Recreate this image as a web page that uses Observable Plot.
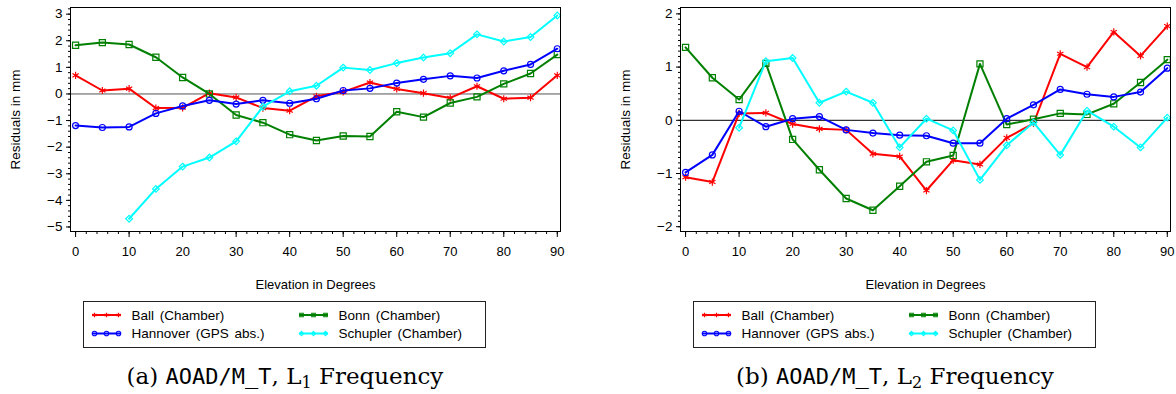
<!DOCTYPE html>
<html>
<head>
<meta charset="utf-8">
<script src="https://cdn.jsdelivr.net/npm/d3@7"></script>
<script src="https://cdn.jsdelivr.net/npm/@observablehq/plot@0.6"></script>
<style>
  html, body { margin: 0; padding: 0; background: #fff; }
  #root { position: relative; width: 1176px; height: 394px; overflow: hidden; }
  .panel { position: absolute; top: 0; width: 566px; height: 394px; }
  .panel > svg { position: absolute; left: 0; top: 0; }
</style>
</head>
<body>
<div id="root">
  <div class="panel" id="pa" style="left:0px"></div>
  <div class="panel" id="pb" style="left:610px"></div>
</div>
<script>
// ---------- data ----------
const elevations = [0, 5, 10, 15, 20, 25, 30, 35, 40, 45, 50, 55, 60, 65, 70, 75, 80, 85, 90];
const seriesNames = ["Ball (Chamber)", "Bonn (Chamber)", "Hannover (GPS abs.)", "Schupler (Chamber)"];

// L1 frequency residuals (mm)
const ballL1     = [0.70, 0.13, 0.20, -0.53, -0.52, 0.03, -0.13, -0.53, -0.63, -0.09, 0.08, 0.43, 0.19, 0.03, -0.15, 0.29, -0.18, -0.14, 0.70];
const bonnL1     = [1.83, 1.93, 1.86, 1.38, 0.62, 0.00, -0.79, -1.08, -1.53, -1.75, -1.58, -1.60, -0.67, -0.87, -0.34, -0.11, 0.38, 0.77, 1.48];
const hannoverL1 = [-1.19, -1.26, -1.24, -0.73, -0.45, -0.24, -0.38, -0.24, -0.35, -0.18, 0.13, 0.21, 0.41, 0.55, 0.68, 0.60, 0.87, 1.11, 1.70];
const schuplerL1 = [null, null, -4.69, -3.57, -2.73, -2.39, -1.78, -0.48, 0.10, 0.31, 0.99, 0.90, 1.16, 1.37, 1.53, 2.24, 1.97, 2.14, 2.95];

// L2 frequency residuals (mm)
const ballL2     = [-1.07, -1.16, 0.13, 0.14, -0.07, -0.16, -0.18, -0.63, -0.68, -1.32, -0.75, -0.83, -0.33, -0.06, 1.25, 1.00, 1.66, 1.21, 1.77];
const bonnL2     = [1.37, 0.80, 0.39, 1.07, -0.36, -0.93, -1.47, -1.69, -1.24, -0.78, -0.66, 1.06, -0.08, 0.02, 0.13, 0.11, 0.31, 0.71, 1.14];
const hannoverL2 = [-0.98, -0.65, 0.17, -0.12, 0.03, 0.07, -0.18, -0.24, -0.28, -0.29, -0.43, -0.43, 0.03, 0.29, 0.58, 0.49, 0.44, 0.53, 0.98];
const schuplerL2 = [null, null, -0.14, 1.11, 1.17, 0.33, 0.54, 0.33, -0.51, 0.03, -0.19, -1.12, -0.47, -0.04, -0.65, 0.18, -0.12, -0.51, 0.05];

// ticks
const xMajorTicks = [0, 10, 20, 30, 40, 50, 60, 70, 80, 90];
const yMajorTicksL1 = [-5, -4, -3, -2, -1, 0, 1, 2, 3];
const yMajorTicksL2 = [-2, -1, 0, 1, 2];

// ---------- styles ----------
const colors = ["#ff0000", "#008000", "#0000ff", "#00ffff"];
const symbols = ["asterisk", "square2", "circle", "diamond2"];
const radii = [3.4, 3.9, 3.0, 3.0];
const legendSymbols = [d3.symbolAsterisk, d3.symbolSquare2, d3.symbolCircle, d3.symbolDiamond2];
const legendSizes = [14, 16, 16, 12];

const FONT = "'Liberation Sans', Arial, sans-serif";
const fmtTick = d => (d < 0 ? "\u2212" + Math.abs(d) : String(d));

function makeChart(values, yDomain, yMajor, yMinorStep, zeroColor) {
  const marks = [];
  marks.push(Plot.ruleY([0], {stroke: zeroColor, strokeWidth: 1}));
  values.forEach((vals, i) => {
    const rows = elevations.map((e, j) => ({x: e, y: vals[j]})).filter(d => d.y != null);
    marks.push(Plot.line(rows, {x: "x", y: "y", stroke: colors[i], strokeWidth: 2}));
    marks.push(Plot.dot(rows, {x: "x", y: "y", stroke: colors[i], symbol: symbols[i], r: radii[i], strokeWidth: 1.2, fill: "none"}));
  });
  const n = Math.round(1 / yMinorStep);
  const yMinor = d3.range(Math.ceil(yDomain[0] * n), Math.floor(yDomain[1] * n) + 1).map(k => k / n);
  const xMinor = d3.range(0, 91, 2);
  marks.push(Plot.axisY(yMinor, {tickSize: 2, tickFormat: () => "", label: null}));
  marks.push(Plot.axisY(yMajor, {tickSize: 4, tickPadding: 4, tickFormat: fmtTick, fontSize: 13.5, label: "Residuals in mm", labelAnchor: "center", labelOffset: 60, labelArrow: "none"}));
  marks.push(Plot.axisX(xMinor, {tickSize: 3, tickFormat: () => "", label: null}));
  marks.push(Plot.axisX(xMajorTicks, {tickSize: 6, tickPadding: 9, tickFormat: fmtTick, label: "Elevation in Degrees", labelAnchor: "center", labelOffset: 57, labelArrow: "none"}));
  marks.push(Plot.frame({stroke: "#000", strokeWidth: 1}));
  return Plot.plot({
    width: 566, height: 295,
    marginLeft: 70, marginRight: 6, marginTop: 7, marginBottom: 64,
    x: {domain: [-0.95, 90.6], label: null},
    y: {domain: yDomain, label: null},
    style: {fontFamily: FONT, fontSize: "13px", color: "#000", background: "#fff"},
    marks
  });
}

function addOverlay(panel, tag, sub) {
  const svg = d3.select(panel).append("svg").attr("width", 566).attr("height", 394)
    .style("pointer-events", "none");
  // legend box
  svg.append("rect").attr("x", 83.5).attr("y", 301.5).attr("width", 402).attr("height", 46)
    .attr("fill", "#fff").attr("stroke", "#222").attr("stroke-width", 1);
  const pos = [[92, 315], [299, 315], [92, 333.5], [299, 333.5]];
  seriesNames.forEach((name, i) => {
    const [sx, sy] = pos[i];
    const g = svg.append("g");
    g.append("line").attr("x1", sx).attr("x2", sx + 29).attr("y1", sy).attr("y2", sy)
      .attr("stroke", colors[i]).attr("stroke-width", 2);
    [2.5, 14.5, 26.5].forEach(dx => {
      g.append("path").attr("d", d3.symbol(legendSymbols[i], legendSizes[i])())
        .attr("transform", `translate(${sx + dx},${sy})`)
        .attr("fill", "none").attr("stroke", colors[i]).attr("stroke-width", 1.1);
    });
    g.append("text").attr("x", sx + 39.5).attr("y", sy).attr("dy", "0.36em")
      .attr("font-family", FONT).attr("font-size", 13.5).attr("word-spacing", "2px")
      .attr("fill", "#000").text(name);
  });
  // caption
  const t = svg.append("text").attr("x", 285).attr("y", 384).attr("text-anchor", "middle")
    .attr("font-family", "'DejaVu Serif', 'Liberation Serif', serif").attr("font-size", 23).attr("fill", "#000");
  t.append("tspan").text(`(${tag}) `);
  t.append("tspan").attr("font-family", "'DejaVu Sans Mono', 'Liberation Mono', monospace").attr("font-size", 22).text("AOAD/M_T");
  t.append("tspan").text(", L");
  t.append("tspan").attr("font-size", 16).attr("dy", 4).text(sub);
  t.append("tspan").attr("dy", -4).text(" Frequency");
}

const pa = document.getElementById("pa");
const pb = document.getElementById("pb");
pa.append(makeChart([ballL1, bonnL1, hannoverL1, schuplerL1], [-5.17, 3.25], yMajorTicksL1, 0.2, "#555"));
addOverlay(pa, "a", "1");
pb.append(makeChart([ballL2, bonnL2, hannoverL2, schuplerL2], [-2.09, 2.12], yMajorTicksL2, 0.1, "#000"));
addOverlay(pb, "b", "2");
</script>
</body>
</html>
